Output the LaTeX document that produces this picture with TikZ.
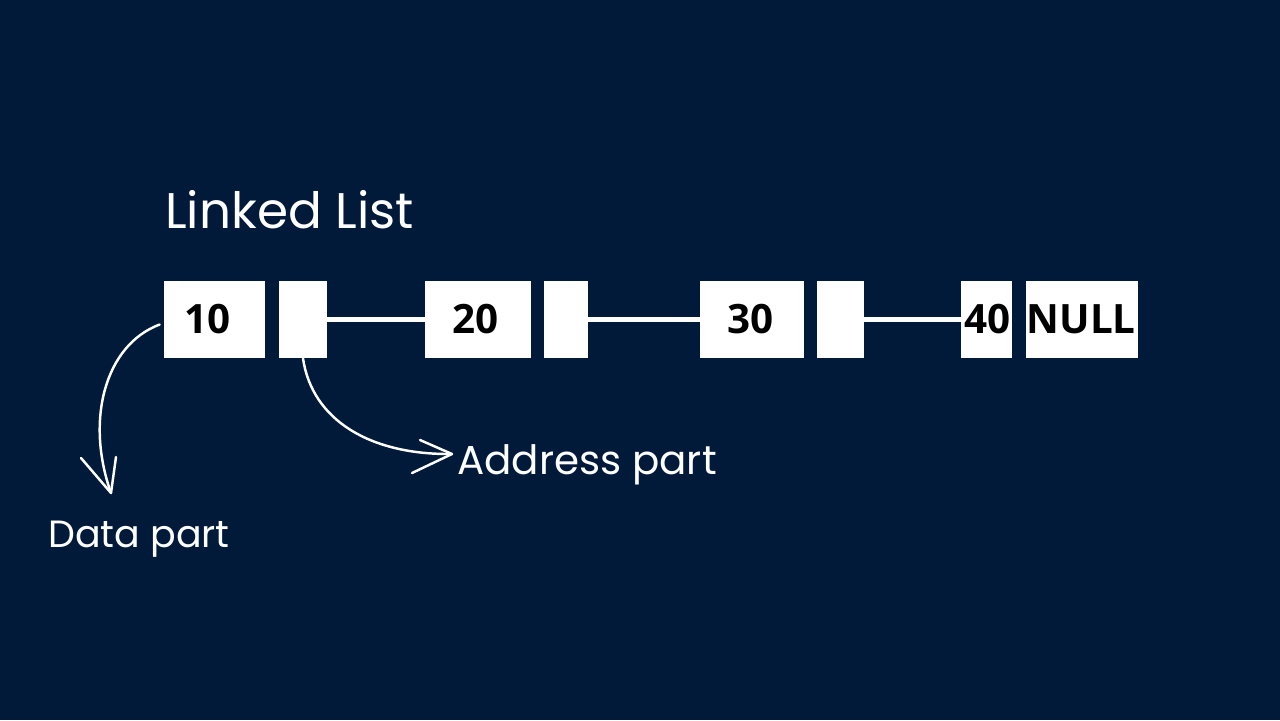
\documentclass[tikz,border=0pt]{standalone}
\usepackage{fontspec}
\setmainfont{Poppins}
\newfontfamily\boxfont{Open Sans}
\definecolor{bg}{RGB}{1,26,58}
\newcommand{\celltext}[2]{\hspace{#1}\raisebox{-1.5pt}{#2}}
\begin{document}
\begin{tikzpicture}[x=0.02cm,y=-0.02cm,
  cell/.style={fill=white,draw=none,inner sep=0pt,text=black,
    font=\boxfont\bfseries\fontsize{23}{23}\selectfont},
  link/.style={draw=white,line width=2.6pt},
  hand/.style={draw=white,line width=1.4pt,line cap=round,line join=round},
  lbl/.style={text=white,inner sep=0pt,anchor=base west}]
\fill[bg] (0,0) rectangle (1280,720);
\useasboundingbox (0,0) rectangle (1280,720);
% boxes: data parts and address parts
\node[cell,minimum width=101*0.02cm,minimum height=77*0.02cm] (d1) at (214.5,319.5) {\celltext{-8pt}{10}};
\node[cell,minimum width=48*0.02cm,minimum height=77*0.02cm] (a1) at (303,319.5) {};
\node[cell,minimum width=106*0.02cm,minimum height=77*0.02cm] (d2) at (478,319.5) {\celltext{-3pt}{20}};
\node[cell,minimum width=44*0.02cm,minimum height=77*0.02cm] (a2) at (566,319.5) {};
\node[cell,minimum width=104*0.02cm,minimum height=77*0.02cm] (d3) at (752,319.5) {\celltext{-2pt}{30}};
\node[cell,minimum width=47*0.02cm,minimum height=77*0.02cm] (a3) at (840.5,319.5) {};
\node[cell,minimum width=51*0.02cm,minimum height=77*0.02cm] (d4) at (986.5,319.5) {\celltext{1pt}{40}};
\node[cell,minimum width=112*0.02cm,minimum height=77*0.02cm] (a4) at (1082,319.5) {\celltext{-1pt}{NULL}};
% links
\draw[link] (a1.east) -- (d2.west);
\draw[link] (a2.east) -- (d3.west);
\draw[link] (a3.east) -- (d4.west);
% labels
\node[lbl,font=\fontsize{28.5}{28.5}\selectfont] (title) at (165,228) {Linked List};
\node[lbl,font=\fontsize{23}{23}\selectfont] (addr) at (457,474) {Address part};
\node[lbl,font=\fontsize{21.6}{21.6}\selectfont] (data) at (48,547) {Data part};
% hand-drawn arrows
\coordinate (dtip) at (111,493);
\coordinate (atip) at (452,454);
\draw[hand] ([xshift=-0.08cm,yshift=-0.1cm]d1.west) .. controls (105,345) and (85,420) .. (dtip);
\draw[hand] (81,458) -- (dtip) -- (116,457);
\draw[hand] (a1.south) .. controls (312,420) and (370,455) .. (atip);
\draw[hand] (420,440) -- (atip) -- (412,473);
\end{tikzpicture}
\end{document}
